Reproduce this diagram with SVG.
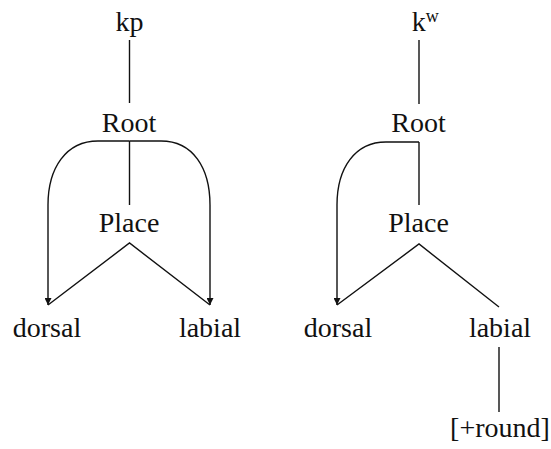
<svg xmlns="http://www.w3.org/2000/svg" width="551" height="449" viewBox="0 0 551 449">
<style>
text{font-family:"Liberation Serif","Times New Roman",serif;font-size:28px;fill:#111;text-anchor:middle}
.c{stroke:#111;stroke-width:1.4;fill:none}
</style>
<defs>
<marker id="ah" viewBox="0 0 10 10" refX="10" refY="5" markerWidth="10" markerHeight="7" markerUnits="userSpaceOnUse" orient="auto">
<path d="M0,0 L10,5 L0,10 z" fill="#111"/>
</marker>
</defs>
<rect width="551" height="449" fill="#fff"/>
<g id="connectors">
<line class="c" x1="129.5" y1="40" x2="129.5" y2="103"/>
<line class="c" x1="129.5" y1="141" x2="129.5" y2="205"/>
<path class="c" d="M129.5,141 H98 C66,141 48,168 48,205 V305" marker-end="url(#ah)"/>
<path class="c" d="M129.5,141 H161 C193,141 210,168 210,205 V305" marker-end="url(#ah)"/>
<polyline class="c" points="48,305 129.5,243 210,305"/>
<line class="c" x1="419" y1="40" x2="419" y2="104"/>
<line class="c" x1="419" y1="142" x2="419" y2="205"/>
<path class="c" d="M419,142 H386 C355,142 337,168 337,205 V305" marker-end="url(#ah)"/>
<polyline class="c" points="337,305 419,244 499,307"/>
<line class="c" x1="499" y1="347" x2="499" y2="412"/>
</g>
<g id="kp"><text x="129.5" y="31">kp</text></g>
<g id="root1"><text x="129" y="132">Root</text></g>
<g id="place1"><text x="129" y="232">Place</text></g>
<g id="dorsal1"><text x="47" y="337">dorsal</text></g>
<g id="labial1"><text x="210" y="337">labial</text></g>
<g id="kw"><text x="418.5" y="31" style="text-anchor:start" transform="translate(-6.8,0)">k<tspan font-size="18" dy="-9">w</tspan></text></g>
<g id="root2"><text x="418.5" y="132">Root</text></g>
<g id="place2"><text x="418.5" y="232">Place</text></g>
<g id="dorsal2"><text x="338" y="337">dorsal</text></g>
<g id="labial2"><text x="500" y="337">labial</text></g>
<g id="round"><text x="500" y="437">[+round]</text></g>
</svg>
